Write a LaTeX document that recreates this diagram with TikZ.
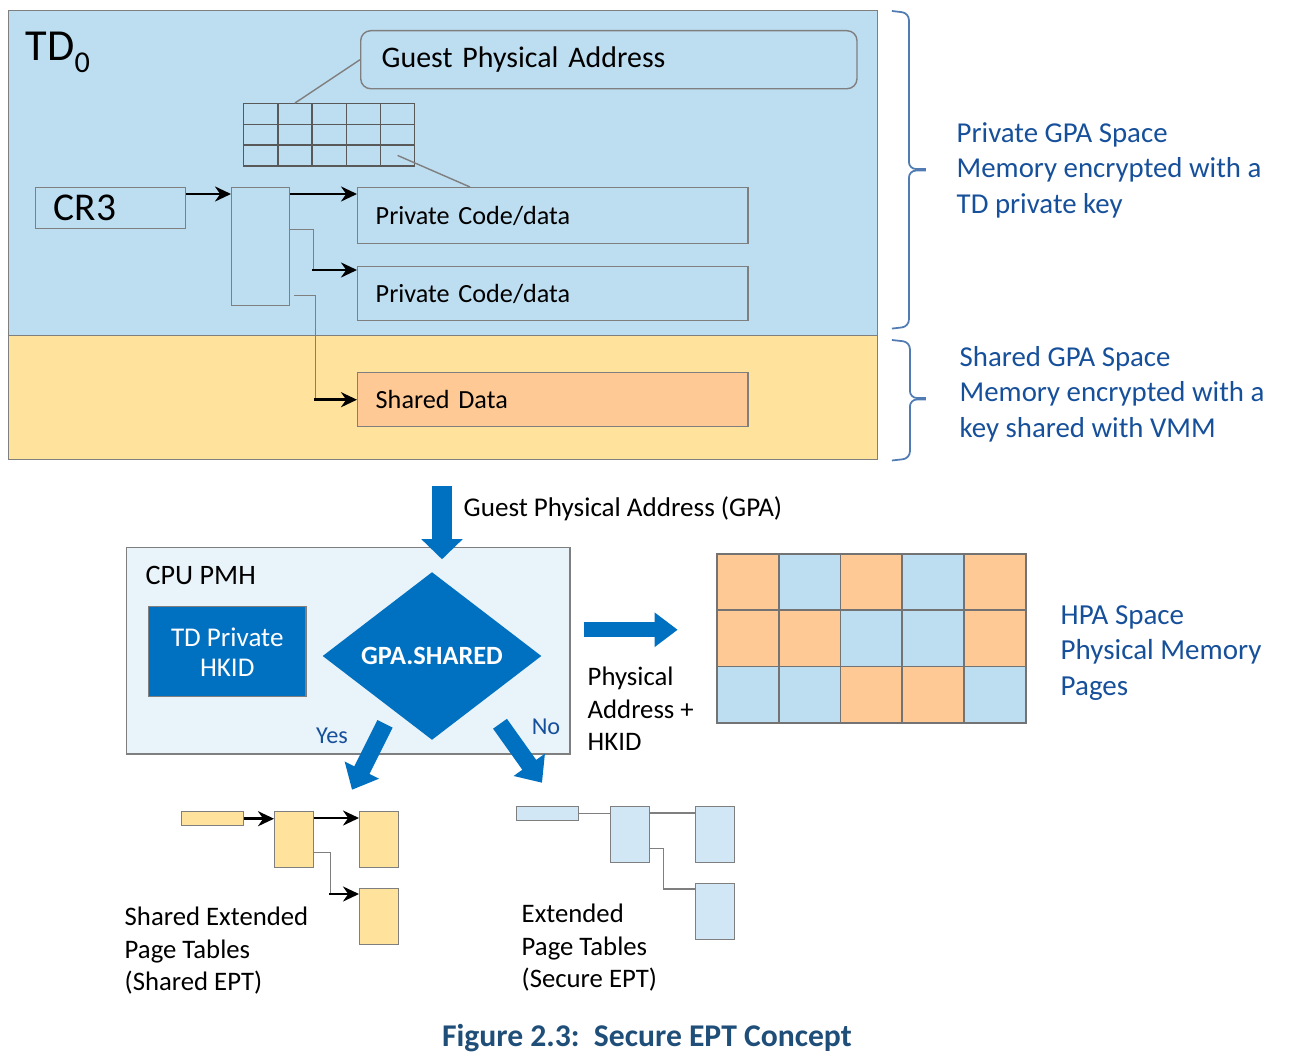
\documentclass[tikz,border=0pt]{standalone}
\usepackage{fontspec}
\setmainfont{Carlito}
\usetikzlibrary{positioning,calc,shapes.geometric,arrows.meta}

\definecolor{tdblue}{HTML}{BDDDF0}
\definecolor{shyellow}{HTML}{FFE29B}
\definecolor{peach}{HTML}{FFC996}
\definecolor{pmhbg}{HTML}{E9F3FA}
\definecolor{intelblue}{HTML}{0070C0}
\definecolor{labelblue}{HTML}{17509A}
\definecolor{capblue}{HTML}{1F4E79}
\definecolor{eptblue}{HTML}{D2E7F6}
\definecolor{edge}{HTML}{7F7F7F}

\tikzset{
  box/.style={draw=edge, line width=0.4pt, anchor=north west, inner sep=0pt},
  databox/.style={box, minimum width=3.9cm, text width=3.54cm, inner xsep=0.18cm,
    align=left, font=\fontsize{7.45}{9}\selectfont},
  cell/.style={draw=black!65, line width=0.4pt, anchor=north west, inner sep=0pt,
    minimum width=0.342cm, minimum height=0.207cm},
  page/.style={draw=black!55, line width=0.5pt, anchor=north west, inner sep=0pt,
    minimum width=0.618cm, minimum height=0.563cm},
  eptbox/.style={box, minimum width=0.39cm, minimum height=0.56cm},
  arr/.style={line width=0.75pt, -{Stealth[length=0.16cm, width=0.15cm]}},
  leader/.style={draw=edge, line width=0.4pt},
  fatarrow/.style={draw=intelblue, line width=#1},
  brace/.style={draw=labelblue!75, line width=0.5pt, rounded corners=0.07cm},
  spacetxt/.style={text=labelblue, align=left, anchor=west, inner sep=0pt,
    font=\fontsize{8.2}{10.1}\selectfont},
  bodytxt/.style={align=left, anchor=west, inner sep=0pt,
    font=\fontsize{7.6}{9.25}\selectfont},
}

\begin{document}
\begin{tikzpicture}[x=0.01cm, y=-0.01cm]
\useasboundingbox (0,0) rectangle (1289,1061);

% guest physical address space
\node (td) [box, fill=tdblue, minimum width=8.68cm, minimum height=3.25cm] at (8,10) {};
\node (shr) [box, fill=shyellow, minimum width=8.68cm, minimum height=1.24cm] at (8,335) {};
\node (tdname) [anchor=base west, inner sep=0pt, font=\fontsize{12.6}{14}\selectfont] at (25,61)
  {TD\raisebox{-0.11cm}{\fontsize{8.6}{9}\selectfont 0}};

\node (gpa) [box, rounded corners=0.1cm, minimum width=4.96cm, minimum height=0.58cm,
  text width=4.54cm, inner xsep=0.21cm, align=left, font=\fontsize{8.5}{11}\selectfont]
  at (360,30) {Guest Physical Address};
\foreach \r in {0,1,2}
  \foreach \c in {0,...,4}
    \node (g-\r-\c) [cell] at ({243+34.2*\c},{103+20.7*\r}) {};

\node (cr3) [box, minimum width=1.5cm, minimum height=0.41cm, text width=1.14cm,
  inner xsep=0.18cm, align=left, font=\fontsize{11.2}{13}\selectfont] at (35,187) {CR3};
\node (tbl) [box, minimum width=0.58cm, minimum height=1.18cm] at (231,187) {};
\node (pc1) [databox, minimum height=0.56cm] at (357,187) {Private Code/data};
\node (pc2) [databox, minimum height=0.54cm] at (357,266) {Private Code/data};
\node (shd) [databox, fill=peach, minimum height=0.54cm] at (357,372) {Shared Data};

\draw [leader] (g-0-1.north) -- (gpa.west);
\draw [leader] (g-2-4.center) -- ($(pc1.north west)+(113,0)$);
\draw [arr] ($(cr3.north east)+(0,7)$) -- ($(tbl.north west)+(0,7)$);
\draw [arr] ($(tbl.north east)+(0,7)$) -- ($(pc1.north west)+(0,7)$);
\coordinate (bend1) at ($(tbl.east)+(23,-17)$);
\draw [leader] ($(tbl.east)+(0,-17)$) -- (bend1) |- ($(pc2.north west)+(-45,4)$);
\draw [arr] ($(pc2.north west)+(-45,4)$) -- ($(pc2.north west)+(0,4)$);
\coordinate (bend2) at ($(tbl.south east)+(25,-11)$);
\draw [leader] ($(tbl.south east)+(4,-11)$) -- (bend2) |- ($(shd.west)+(-43,0)$);
\draw [arr] ($(shd.west)+(-43,0)$) -- (shd.west);

% braces
\draw [brace] ($(td.north east)+(14,1)$) -- ++(17,2) -- ++(0,156) -- ++(17,0);
\draw [brace] ($(td.south east)+(14,-8)$) -- ++(17,-2) -- ++(0,-156) -- ++(17,0);
\draw [brace] ($(shr.north east)+(14,5)$) -- ++(18,2) -- ++(0,56) -- ++(16,0);
\draw [brace] ($(shr.south east)+(14,0)$) -- ++(18,-2) -- ++(0,-59) -- ++(16,0);
\node (privtxt) [spacetxt] at (956,170)
  {Private GPA Space\\Memory encrypted with a\\TD private key};
\node (shtxt) [spacetxt] at (959,394)
  {Shared GPA Space\\Memory encrypted with a\\key shared with VMM};

% page miss handler
\node (pmh) [box, fill=pmhbg, minimum width=4.43cm, minimum height=2.06cm] at (126,547) {};
\node (pmhname) [anchor=base west, inner sep=0pt, font=\fontsize{8}{9}\selectfont] at (145,584) {CPU PMH};
\node (hkid) [box, fill=intelblue, text=white, minimum width=1.57cm, minimum height=0.9cm,
  align=center, font=\fontsize{7.7}{8.5}\selectfont] at (148,606) {TD Private\\HKID};
\node (dia) [diamond, fill=intelblue, text=white, inner sep=0pt, minimum width=2.19cm,
  minimum height=1.68cm, font=\bfseries\fontsize{7.5}{8}\selectfont] at (432,656) {GPA.SHARED};
\node (yes) [text=labelblue, font=\fontsize{6.9}{8}\selectfont] at (332,736) {Yes};
\node (no) [text=labelblue, font=\fontsize{6.9}{8}\selectfont] at (546,727) {No};

\coordinate (gpain) at (442,486);
\draw [fatarrow=0.2cm, -{Triangle[length=0.2cm, width=0.4cm]}] (gpain) -- ($(dia.north)+(10,-12)$);
\node (gpatxt) [bodytxt, font=\fontsize{7.7}{9}\selectfont] at (463,509) {Guest Physical Address (GPA)};
\draw [fatarrow=0.17cm, -{Triangle[length=0.22cm, width=0.37cm]}]
  ($(dia.south)+(-47,-17)$) -- ($(dia.south)+(-80,49)$);
\draw [fatarrow=0.17cm, -{Triangle[length=0.22cm, width=0.37cm]}]
  ($(dia.south)+(68,-17)$) -- ($(dia.south)+(110,42)$);
\draw [fatarrow=0.15cm, -{Triangle[length=0.23cm, width=0.33cm]}]
  ($(pmh.east)+(13,-21)$) -- ++(94,0);
\node (patxt) [bodytxt] at (587,709) {Physical\\Address +\\HKID};

% host physical memory
\foreach \col [count=\i from 0] in {peach,tdblue,peach,tdblue,peach,
    peach,peach,tdblue,tdblue,peach, tdblue,tdblue,peach,peach,tdblue} {
  \pgfmathtruncatemacro\r{\i/5}
  \pgfmathtruncatemacro\k{mod(\i,5)}
  \node (h-\r-\k) [page, fill=\col] at ({716+61.8*\k},{553+56.3*\r}) {};
}
\node (hpatxt) [spacetxt, font=\fontsize{8.25}{10.2}\selectfont] at (1060,653)
  {HPA Space\\Physical Memory\\Pages};

% shared EPT
\node (sbar) [box, fill=shyellow, minimum width=0.62cm, minimum height=0.14cm] at (181,811) {};
\node (s1) [eptbox, fill=shyellow] at (274,811) {};
\node (s2) [eptbox, fill=shyellow] at (359,811) {};
\node (s3) [eptbox, fill=shyellow] at (359,888) {};
\draw [arr] (sbar.east) -- (sbar.east -| s1.west);
\draw [arr] ($(s1.north east)+(0,7)$) -- ($(s2.north west)+(0,7)$);
\coordinate (bend3) at ($(s1.east)+(16,13)$);
\draw [leader] ($(s1.east)+(0,13)$) -- (bend3) |- ($(s3.north west)+(-30,6)$);
\draw [arr] ($(s3.north west)+(-30,6)$) -- ($(s3.north west)+(0,6)$);
\node (stxt) [bodytxt] at (124,951) {Shared Extended\\Page Tables\\(Shared EPT)};

% secure EPT
\node (tbar) [box, fill=eptblue, minimum width=0.62cm, minimum height=0.14cm] at (516,806) {};
\node (t1) [eptbox, fill=eptblue] at (610,806) {};
\node (t2) [eptbox, fill=eptblue] at (695,806) {};
\node (t3) [eptbox, fill=eptblue] at (695,883) {};
\draw [leader] (tbar.east) -- (tbar.east -| t1.west);
\draw [leader] ($(t1.north east)+(0,7)$) -- ($(t2.north west)+(0,7)$);
\draw [leader] ($(t1.east)+(0,14)$) -- ++(13,0) |- ($(t3.north west)+(0,6)$);
\node (ttxt) [bodytxt] at (521,948) {Extended\\Page Tables\\(Secure EPT)};

\node (caption) [text=capblue, font=\bfseries\fontsize{9}{11}\selectfont] at (647,1038)
  {Figure 2.3:\ \ Secure EPT Concept};
\end{tikzpicture}
\end{document}
